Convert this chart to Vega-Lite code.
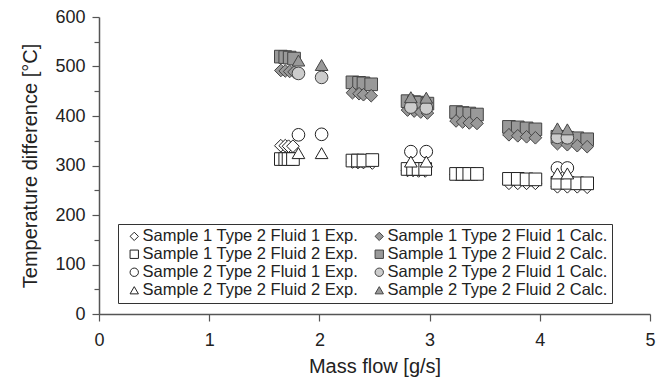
{
  "$schema": "https://vega.github.io/schema/vega-lite/v6.json",
  "autosize": {"type": "none"},
  "width": 551,
  "height": 297,
  "padding": {"left": 99, "top": 17, "right": 16, "bottom": 75},
  "background": "white",
  "config": {
    "view": {"stroke": null},
    "font": "Liberation Sans",
    "axis": {"grid": false, "domainColor": "#555", "domainWidth": 1.5, "tickColor": "#555", "tickWidth": 1.2, "labelFont": "Liberation Sans", "labelFontSize": 18, "labelColor": "#222", "labelFlush": false, "titleFont": "Liberation Sans", "titleFontSize": 20, "titleFontWeight": "normal", "titleColor": "#222"}
  },
  "data": {"values": [
    {"series": "Sample 1 Type 2 Fluid 1 Exp.", "x": 1.65, "y": 340},
    {"series": "Sample 1 Type 2 Fluid 1 Exp.", "x": 1.69, "y": 340},
    {"series": "Sample 1 Type 2 Fluid 1 Exp.", "x": 1.72, "y": 339},
    {"series": "Sample 1 Type 2 Fluid 1 Exp.", "x": 1.76, "y": 339},
    {"series": "Sample 1 Type 2 Fluid 1 Exp.", "x": 2.30, "y": 307},
    {"series": "Sample 1 Type 2 Fluid 1 Exp.", "x": 2.35, "y": 306},
    {"series": "Sample 1 Type 2 Fluid 1 Exp.", "x": 2.40, "y": 306},
    {"series": "Sample 1 Type 2 Fluid 1 Exp.", "x": 2.48, "y": 305},
    {"series": "Sample 1 Type 2 Fluid 1 Exp.", "x": 2.80, "y": 290},
    {"series": "Sample 1 Type 2 Fluid 1 Exp.", "x": 2.85, "y": 290},
    {"series": "Sample 1 Type 2 Fluid 1 Exp.", "x": 2.90, "y": 289},
    {"series": "Sample 1 Type 2 Fluid 1 Exp.", "x": 2.96, "y": 289},
    {"series": "Sample 1 Type 2 Fluid 1 Exp.", "x": 3.24, "y": 282},
    {"series": "Sample 1 Type 2 Fluid 1 Exp.", "x": 3.30, "y": 282},
    {"series": "Sample 1 Type 2 Fluid 1 Exp.", "x": 3.36, "y": 282},
    {"series": "Sample 1 Type 2 Fluid 1 Exp.", "x": 3.43, "y": 282},
    {"series": "Sample 1 Type 2 Fluid 1 Exp.", "x": 3.72, "y": 264},
    {"series": "Sample 1 Type 2 Fluid 1 Exp.", "x": 3.80, "y": 264},
    {"series": "Sample 1 Type 2 Fluid 1 Exp.", "x": 3.88, "y": 264},
    {"series": "Sample 1 Type 2 Fluid 1 Exp.", "x": 3.96, "y": 264},
    {"series": "Sample 1 Type 2 Fluid 1 Exp.", "x": 4.16, "y": 257},
    {"series": "Sample 1 Type 2 Fluid 1 Exp.", "x": 4.25, "y": 257},
    {"series": "Sample 1 Type 2 Fluid 1 Exp.", "x": 4.34, "y": 257},
    {"series": "Sample 1 Type 2 Fluid 1 Exp.", "x": 4.43, "y": 256},
    {"series": "Sample 1 Type 2 Fluid 2 Exp.", "x": 1.65, "y": 313},
    {"series": "Sample 1 Type 2 Fluid 2 Exp.", "x": 1.69, "y": 313},
    {"series": "Sample 1 Type 2 Fluid 2 Exp.", "x": 1.72, "y": 313},
    {"series": "Sample 1 Type 2 Fluid 2 Exp.", "x": 1.76, "y": 313},
    {"series": "Sample 1 Type 2 Fluid 2 Exp.", "x": 2.30, "y": 310},
    {"series": "Sample 1 Type 2 Fluid 2 Exp.", "x": 2.35, "y": 310},
    {"series": "Sample 1 Type 2 Fluid 2 Exp.", "x": 2.40, "y": 310},
    {"series": "Sample 1 Type 2 Fluid 2 Exp.", "x": 2.48, "y": 311},
    {"series": "Sample 1 Type 2 Fluid 2 Exp.", "x": 2.80, "y": 293},
    {"series": "Sample 1 Type 2 Fluid 2 Exp.", "x": 2.85, "y": 293},
    {"series": "Sample 1 Type 2 Fluid 2 Exp.", "x": 2.90, "y": 293},
    {"series": "Sample 1 Type 2 Fluid 2 Exp.", "x": 2.96, "y": 293},
    {"series": "Sample 1 Type 2 Fluid 2 Exp.", "x": 3.24, "y": 283},
    {"series": "Sample 1 Type 2 Fluid 2 Exp.", "x": 3.30, "y": 283},
    {"series": "Sample 1 Type 2 Fluid 2 Exp.", "x": 3.36, "y": 283},
    {"series": "Sample 1 Type 2 Fluid 2 Exp.", "x": 3.43, "y": 283},
    {"series": "Sample 1 Type 2 Fluid 2 Exp.", "x": 3.72, "y": 273},
    {"series": "Sample 1 Type 2 Fluid 2 Exp.", "x": 3.80, "y": 273},
    {"series": "Sample 1 Type 2 Fluid 2 Exp.", "x": 3.88, "y": 272},
    {"series": "Sample 1 Type 2 Fluid 2 Exp.", "x": 3.96, "y": 272},
    {"series": "Sample 1 Type 2 Fluid 2 Exp.", "x": 4.16, "y": 265},
    {"series": "Sample 1 Type 2 Fluid 2 Exp.", "x": 4.25, "y": 265},
    {"series": "Sample 1 Type 2 Fluid 2 Exp.", "x": 4.34, "y": 264},
    {"series": "Sample 1 Type 2 Fluid 2 Exp.", "x": 4.43, "y": 264},
    {"series": "Sample 2 Type 2 Fluid 1 Exp.", "x": 1.81, "y": 362},
    {"series": "Sample 2 Type 2 Fluid 1 Exp.", "x": 2.02, "y": 363},
    {"series": "Sample 2 Type 2 Fluid 1 Exp.", "x": 2.83, "y": 328},
    {"series": "Sample 2 Type 2 Fluid 1 Exp.", "x": 2.97, "y": 328},
    {"series": "Sample 2 Type 2 Fluid 1 Exp.", "x": 4.16, "y": 295},
    {"series": "Sample 2 Type 2 Fluid 1 Exp.", "x": 4.25, "y": 295},
    {"series": "Sample 2 Type 2 Fluid 2 Exp.", "x": 1.81, "y": 325},
    {"series": "Sample 2 Type 2 Fluid 2 Exp.", "x": 2.02, "y": 325},
    {"series": "Sample 2 Type 2 Fluid 2 Exp.", "x": 2.83, "y": 308},
    {"series": "Sample 2 Type 2 Fluid 2 Exp.", "x": 2.97, "y": 308},
    {"series": "Sample 2 Type 2 Fluid 2 Exp.", "x": 4.16, "y": 284},
    {"series": "Sample 2 Type 2 Fluid 2 Exp.", "x": 4.25, "y": 284},
    {"series": "Sample 1 Type 2 Fluid 2 Calc.", "x": 1.65, "y": 520},
    {"series": "Sample 1 Type 2 Fluid 2 Calc.", "x": 1.69, "y": 519},
    {"series": "Sample 1 Type 2 Fluid 2 Calc.", "x": 1.73, "y": 518},
    {"series": "Sample 1 Type 2 Fluid 2 Calc.", "x": 1.77, "y": 516},
    {"series": "Sample 1 Type 2 Fluid 2 Calc.", "x": 2.30, "y": 468},
    {"series": "Sample 1 Type 2 Fluid 2 Calc.", "x": 2.36, "y": 467},
    {"series": "Sample 1 Type 2 Fluid 2 Calc.", "x": 2.40, "y": 466},
    {"series": "Sample 1 Type 2 Fluid 2 Calc.", "x": 2.47, "y": 464},
    {"series": "Sample 1 Type 2 Fluid 2 Calc.", "x": 2.80, "y": 430},
    {"series": "Sample 1 Type 2 Fluid 2 Calc.", "x": 2.86, "y": 428},
    {"series": "Sample 1 Type 2 Fluid 2 Calc.", "x": 2.92, "y": 427},
    {"series": "Sample 1 Type 2 Fluid 2 Calc.", "x": 2.98, "y": 425},
    {"series": "Sample 1 Type 2 Fluid 2 Calc.", "x": 3.24, "y": 408},
    {"series": "Sample 1 Type 2 Fluid 2 Calc.", "x": 3.30, "y": 406},
    {"series": "Sample 1 Type 2 Fluid 2 Calc.", "x": 3.36, "y": 405},
    {"series": "Sample 1 Type 2 Fluid 2 Calc.", "x": 3.43, "y": 403},
    {"series": "Sample 1 Type 2 Fluid 2 Calc.", "x": 3.72, "y": 378},
    {"series": "Sample 1 Type 2 Fluid 2 Calc.", "x": 3.80, "y": 377},
    {"series": "Sample 1 Type 2 Fluid 2 Calc.", "x": 3.88, "y": 375},
    {"series": "Sample 1 Type 2 Fluid 2 Calc.", "x": 3.96, "y": 373},
    {"series": "Sample 1 Type 2 Fluid 2 Calc.", "x": 4.16, "y": 358},
    {"series": "Sample 1 Type 2 Fluid 2 Calc.", "x": 4.25, "y": 356},
    {"series": "Sample 1 Type 2 Fluid 2 Calc.", "x": 4.34, "y": 355},
    {"series": "Sample 1 Type 2 Fluid 2 Calc.", "x": 4.43, "y": 353},
    {"series": "Sample 1 Type 2 Fluid 1 Calc.", "x": 1.65, "y": 492},
    {"series": "Sample 1 Type 2 Fluid 1 Calc.", "x": 1.69, "y": 491},
    {"series": "Sample 1 Type 2 Fluid 1 Calc.", "x": 1.73, "y": 490},
    {"series": "Sample 1 Type 2 Fluid 1 Calc.", "x": 1.77, "y": 489},
    {"series": "Sample 1 Type 2 Fluid 1 Calc.", "x": 2.30, "y": 447},
    {"series": "Sample 1 Type 2 Fluid 1 Calc.", "x": 2.36, "y": 445},
    {"series": "Sample 1 Type 2 Fluid 1 Calc.", "x": 2.40, "y": 443},
    {"series": "Sample 1 Type 2 Fluid 1 Calc.", "x": 2.47, "y": 441},
    {"series": "Sample 1 Type 2 Fluid 1 Calc.", "x": 2.80, "y": 412},
    {"series": "Sample 1 Type 2 Fluid 1 Calc.", "x": 2.86, "y": 410},
    {"series": "Sample 1 Type 2 Fluid 1 Calc.", "x": 2.92, "y": 408},
    {"series": "Sample 1 Type 2 Fluid 1 Calc.", "x": 2.98, "y": 406},
    {"series": "Sample 1 Type 2 Fluid 1 Calc.", "x": 3.24, "y": 390},
    {"series": "Sample 1 Type 2 Fluid 1 Calc.", "x": 3.30, "y": 388},
    {"series": "Sample 1 Type 2 Fluid 1 Calc.", "x": 3.36, "y": 386},
    {"series": "Sample 1 Type 2 Fluid 1 Calc.", "x": 3.43, "y": 385},
    {"series": "Sample 1 Type 2 Fluid 1 Calc.", "x": 3.72, "y": 362},
    {"series": "Sample 1 Type 2 Fluid 1 Calc.", "x": 3.80, "y": 360},
    {"series": "Sample 1 Type 2 Fluid 1 Calc.", "x": 3.88, "y": 358},
    {"series": "Sample 1 Type 2 Fluid 1 Calc.", "x": 3.96, "y": 356},
    {"series": "Sample 1 Type 2 Fluid 1 Calc.", "x": 4.16, "y": 344},
    {"series": "Sample 1 Type 2 Fluid 1 Calc.", "x": 4.25, "y": 342},
    {"series": "Sample 1 Type 2 Fluid 1 Calc.", "x": 4.34, "y": 340},
    {"series": "Sample 1 Type 2 Fluid 1 Calc.", "x": 4.43, "y": 338},
    {"series": "Sample 2 Type 2 Fluid 1 Calc.", "x": 1.81, "y": 486},
    {"series": "Sample 2 Type 2 Fluid 1 Calc.", "x": 2.02, "y": 478},
    {"series": "Sample 2 Type 2 Fluid 1 Calc.", "x": 2.83, "y": 418},
    {"series": "Sample 2 Type 2 Fluid 1 Calc.", "x": 2.97, "y": 416},
    {"series": "Sample 2 Type 2 Fluid 1 Calc.", "x": 4.16, "y": 357},
    {"series": "Sample 2 Type 2 Fluid 1 Calc.", "x": 4.25, "y": 356},
    {"series": "Sample 2 Type 2 Fluid 2 Calc.", "x": 1.81, "y": 512},
    {"series": "Sample 2 Type 2 Fluid 2 Calc.", "x": 2.02, "y": 503},
    {"series": "Sample 2 Type 2 Fluid 2 Calc.", "x": 2.83, "y": 438},
    {"series": "Sample 2 Type 2 Fluid 2 Calc.", "x": 2.97, "y": 437},
    {"series": "Sample 2 Type 2 Fluid 2 Calc.", "x": 4.16, "y": 375},
    {"series": "Sample 2 Type 2 Fluid 2 Calc.", "x": 4.25, "y": 373}
  ]},
  "mark": {"type": "point", "filled": false, "size": 160, "strokeWidth": 1, "opacity": 1},
  "encoding": {
    "x": {"field": "x", "type": "quantitative", "title": "Mass flow [g/s]",
      "scale": {"domain": [0, 5], "nice": false},
      "axis": {"values": [0, 0.5, 1, 1.5, 2, 2.5, 3, 3.5, 4, 4.5, 5], "format": "d", "labelExpr": "datum.value % 1 === 0 ? datum.label : ''",
        "tickSize": {"condition": {"test": "datum.value % 1 !== 0", "value": 4}, "value": 7}, "labelPadding": 10, "titlePadding": 7}},
    "y": {"field": "y", "type": "quantitative", "title": "Temperature difference [°C]",
      "scale": {"domain": [0, 600], "nice": false},
      "axis": {"values": [0, 50, 100, 150, 200, 250, 300, 350, 400, 450, 500, 550, 600], "format": "d", "labelExpr": "datum.value % 100 === 0 ? datum.label : ''",
        "tickSize": {"condition": {"test": "datum.value % 100 !== 0", "value": 5}, "value": 7}, "labelPadding": 7, "titlePadding": 14}},
    "shape": {"field": "series", "type": "nominal",
      "scale": {"domain": ["Sample 1 Type 2 Fluid 1 Exp.", "Sample 1 Type 2 Fluid 2 Exp.", "Sample 2 Type 2 Fluid 1 Exp.", "Sample 2 Type 2 Fluid 2 Exp.", "Sample 1 Type 2 Fluid 1 Calc.", "Sample 1 Type 2 Fluid 2 Calc.", "Sample 2 Type 2 Fluid 1 Calc.", "Sample 2 Type 2 Fluid 2 Calc."],
        "range": ["diamond", "square", "circle", "triangle-up", "diamond", "square", "circle", "triangle-up"]},
      "legend": {"title": null, "orient": "none", "legendX": 19, "legendY": 207, "columns": 2, "columnPadding": 8, "rowPadding": 1,
        "strokeColor": "#333", "fillColor": "white", "padding": 4, "labelFont": "Liberation Sans", "labelFontSize": 16.5, "labelColor": "#222", "labelLimit": 400, "labelOffset": 0,
        "symbolSize": 70, "symbolStrokeWidth": 1, "symbolOffset": 4}},
    "fill": {"field": "series", "type": "nominal",
      "scale": {"domain": ["Sample 1 Type 2 Fluid 1 Exp.", "Sample 1 Type 2 Fluid 2 Exp.", "Sample 2 Type 2 Fluid 1 Exp.", "Sample 2 Type 2 Fluid 2 Exp.", "Sample 1 Type 2 Fluid 1 Calc.", "Sample 1 Type 2 Fluid 2 Calc.", "Sample 2 Type 2 Fluid 1 Calc.", "Sample 2 Type 2 Fluid 2 Calc."],
        "range": ["white", "white", "white", "white", "#999999", "#999999", "#cccccc", "#999999"]}},
    "stroke": {"field": "series", "type": "nominal",
      "scale": {"domain": ["Sample 1 Type 2 Fluid 1 Exp.", "Sample 1 Type 2 Fluid 2 Exp.", "Sample 2 Type 2 Fluid 1 Exp.", "Sample 2 Type 2 Fluid 2 Exp.", "Sample 1 Type 2 Fluid 1 Calc.", "Sample 1 Type 2 Fluid 2 Calc.", "Sample 2 Type 2 Fluid 1 Calc.", "Sample 2 Type 2 Fluid 2 Calc."],
        "range": ["#222222", "#222222", "#222222", "#222222", "#444444", "#444444", "#444444", "#444444"]}}
  }
}
